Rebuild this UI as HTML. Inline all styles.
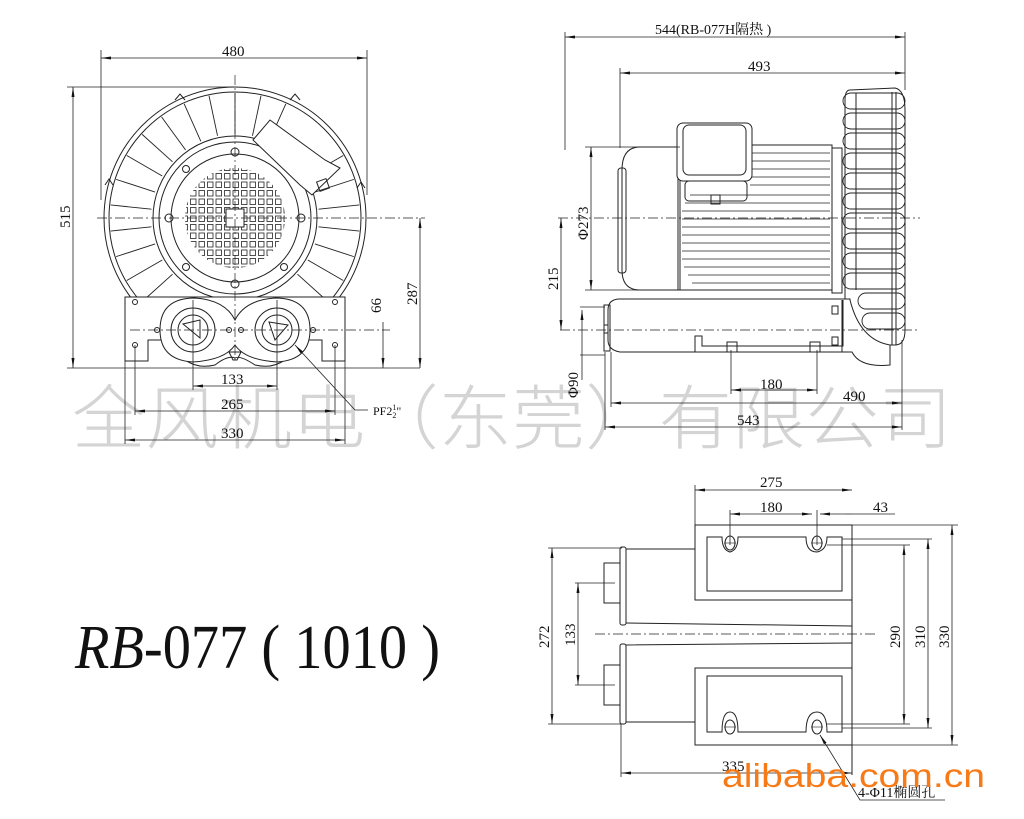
<!DOCTYPE html>
<html><head><meta charset="utf-8"><style>
html,body{margin:0;padding:0;background:#fff}
svg{display:block}
text{font-family:"Liberation Serif","Noto Serif CJK SC",serif;fill:#111}
.d{font-size:15px}
</style></head><body>
<svg width="1024" height="819" viewBox="0 0 1024 819" xmlns="http://www.w3.org/2000/svg">
<defs>
<marker id="a" viewBox="0 0 10 6" refX="10" refY="3" markerWidth="10" markerHeight="6" orient="auto-start-reverse" markerUnits="userSpaceOnUse"><path d="M0,1.5L10,3L0,4.5z" fill="#111"/></marker>
<pattern id="g" x="181" y="164" width="8.5" height="8.5" patternUnits="userSpaceOnUse"><rect x="1" y="1" width="5.5" height="5.5" fill="none" stroke="#222" stroke-width="0.8"/></pattern>
<clipPath id="gc"><circle cx="235" cy="218" r="50"/></clipPath>
</defs>

<!-- watermark -->
<text x="72" y="443" style="font-family:'Noto Sans CJK SC',sans-serif;font-weight:300;font-size:70px;fill:#d4d4d4" textLength="880" lengthAdjust="spacingAndGlyphs">全风机电（东莞）有限公司</text>

<g stroke="#222" fill="none" stroke-width="1">
<!-- ===== FRONT VIEW ===== -->
<circle cx="235" cy="218" r="131"/>
<circle cx="235" cy="218" r="126"/>
<g transform="translate(235,218)">
<circle r="82"/>
<circle r="76"/>
<circle r="64"/>
<g stroke-width="0.9">
<line x1="0" y1="-84" x2="0" y2="-125"/>
<line x1="0" y1="-84" x2="0" y2="-125" transform="rotate(12)"/>
<line x1="0" y1="-84" x2="0" y2="-125" transform="rotate(24)"/>
<line x1="0" y1="-84" x2="0" y2="-125" transform="rotate(60)"/>
<line x1="0" y1="-84" x2="0" y2="-125" transform="rotate(72)"/>
<line x1="0" y1="-84" x2="0" y2="-125" transform="rotate(84)"/>
<line x1="0" y1="-84" x2="0" y2="-125" transform="rotate(96)"/>
<line x1="0" y1="-84" x2="0" y2="-125" transform="rotate(108)"/>
<line x1="0" y1="-84" x2="0" y2="-125" transform="rotate(120)"/>
<line x1="0" y1="-84" x2="0" y2="-125" transform="rotate(132)"/>
<line x1="0" y1="-84" x2="0" y2="-125" transform="rotate(-12)"/>
<line x1="0" y1="-84" x2="0" y2="-125" transform="rotate(-24)"/>
<line x1="0" y1="-84" x2="0" y2="-125" transform="rotate(-36)"/>
<line x1="0" y1="-84" x2="0" y2="-125" transform="rotate(-48)"/>
<line x1="0" y1="-84" x2="0" y2="-125" transform="rotate(-60)"/>
<line x1="0" y1="-84" x2="0" y2="-125" transform="rotate(-72)"/>
<line x1="0" y1="-84" x2="0" y2="-125" transform="rotate(-84)"/>
<line x1="0" y1="-84" x2="0" y2="-125" transform="rotate(-96)"/>
<line x1="0" y1="-84" x2="0" y2="-125" transform="rotate(-108)"/>
<line x1="0" y1="-84" x2="0" y2="-125" transform="rotate(-120)"/>
<line x1="0" y1="-84" x2="0" y2="-125" transform="rotate(-132)"/>
</g>
<circle cx="0" cy="-66" r="4"/><circle cx="0" cy="66" r="4"/>
<circle cx="-66" cy="0" r="4"/><circle cx="66" cy="0" r="4"/>
<circle cx="-49" cy="-49" r="3.5"/><circle cx="-49" cy="49" r="3.5"/><circle cx="49" cy="49" r="3.5"/>
</g>
<rect x="160" y="143" width="150" height="150" fill="url(#g)" stroke="none" clip-path="url(#gc)"/>
<rect x="226" y="209" width="18" height="18" fill="#fff"/>
<!-- outlet wing -->
<path d="M253,140 L270,120 L325,160 L340,168 L312,195 L300,185 Z" fill="#fff"/>
<rect x="318" y="180" width="10" height="10" transform="rotate(-20 323 185)"/>
<path d="M175,100 l5,-6 l5,6 M290,100 l5,-6 l5,6 M105,185 l4,-6 l4,6 M357,188 l4,-6 l4,6"/>
<!-- base -->
<path d="M125,297 L345,297 L345,361 L322,361 L322,340 L300,340 Q285,372 255,365 Q240,355 235,358 Q228,355 215,365 Q185,372 170,340 L148,340 L148,361 L125,361 Z" fill="#fff"/>
<path d="M160,330 Q160,298 195,298 Q225,300 235,320 Q245,300 275,298 Q310,298 310,330 Q310,360 277,362 Q245,360 235,345 Q225,360 193,362 Q160,360 160,330 Z" fill="#fff"/>
<circle cx="193" cy="330" r="22"/><circle cx="193" cy="330" r="15"/>
<circle cx="277" cy="330" r="22"/><circle cx="277" cy="330" r="15"/>
<path d="M183,324 L200,320 L200,338 Z M269,322 L288,325 L275,340 Z"/>
<circle cx="157" cy="330" r="2.5"/><circle cx="229" cy="330" r="2.5"/><circle cx="241" cy="330" r="2.5"/><circle cx="313" cy="330" r="2.5"/>
<circle cx="135" cy="302" r="2.5"/><circle cx="335" cy="302" r="2.5"/><circle cx="135" cy="345" r="2.5"/><circle cx="335" cy="345" r="2.5"/>
<path d="M229,352 L241,352 L237,360 L233,360 Z"/>
<!-- front dims -->
<g stroke-width="0.8">
<line x1="101" y1="50" x2="101" y2="200"/><line x1="367" y1="50" x2="367" y2="195"/>
<line x1="101" y1="58" x2="367" y2="58" marker-start="url(#a)" marker-end="url(#a)"/>
<line x1="67" y1="87" x2="235" y2="87"/><line x1="67" y1="368" x2="420" y2="368"/>
<line x1="73" y1="87" x2="73" y2="368" marker-start="url(#a)" marker-end="url(#a)"/>
<line x1="420" y1="218" x2="420" y2="368" marker-start="url(#a)" marker-end="url(#a)"/>
<line x1="383" y1="322" x2="383" y2="368" marker-end="url(#a)"/>
<line x1="193" y1="300" x2="193" y2="390"/><line x1="277" y1="300" x2="277" y2="390"/>
<line x1="193" y1="386" x2="277" y2="386" marker-start="url(#a)" marker-end="url(#a)"/>
<line x1="135" y1="345" x2="135" y2="415"/><line x1="335" y1="345" x2="335" y2="415"/>
<line x1="135" y1="411" x2="335" y2="411" marker-start="url(#a)" marker-end="url(#a)"/>
<line x1="125" y1="361" x2="125" y2="444"/><line x1="345" y1="361" x2="345" y2="444"/>
<line x1="125" y1="440" x2="345" y2="440" marker-start="url(#a)" marker-end="url(#a)"/>
<polyline points="295,345 355,410 368,410" marker-start="url(#a)"/>
</g>
<g stroke-dasharray="10,3,2,3" stroke-width="0.7">
<line x1="97" y1="218" x2="425" y2="218"/>
<line x1="235" y1="75" x2="235" y2="362"/>
<line x1="130" y1="330" x2="390" y2="330"/>
</g>

<!-- ===== SIDE VIEW ===== -->
<path d="M640,147 L680,147 L680,290 L640,290 Q622,290 622,270 L622,170 Q622,147 640,147 Z" fill="#fff"/>
<rect x="618" y="168" width="8" height="105" rx="3"/>
<rect x="678" y="145" width="154" height="145"/>
<g stroke-width="0.7">
<line x1="750" y1="153" x2="830" y2="153"/><line x1="750" y1="161" x2="830" y2="161"/><line x1="750" y1="169" x2="830" y2="169"/><line x1="750" y1="177" x2="830" y2="177"/><line x1="750" y1="185" x2="830" y2="185"/>
<line x1="690" y1="195" x2="830" y2="195"/><line x1="685" y1="203" x2="830" y2="203"/><line x1="682" y1="211" x2="830" y2="211"/><line x1="682" y1="219" x2="830" y2="219"/><line x1="682" y1="227" x2="830" y2="227"/><line x1="682" y1="235" x2="830" y2="235"/><line x1="682" y1="243" x2="830" y2="243"/><line x1="682" y1="251" x2="830" y2="251"/><line x1="682" y1="259" x2="830" y2="259"/><line x1="684" y1="267" x2="830" y2="267"/><line x1="688" y1="275" x2="830" y2="275"/><line x1="692" y1="283" x2="830" y2="283"/>
</g>
<rect x="677" y="123" width="75" height="58" rx="6" fill="#fff"/>
<rect x="683" y="125" width="63" height="50" rx="6"/>
<rect x="685" y="181" width="62" height="20" rx="4"/>
<rect x="711" y="195" width="9" height="9"/>
<rect x="832" y="148" width="10" height="145"/>
<!-- cage -->
<path d="M850,90 L895,88 Q905,90 905,110 L905,330 Q905,345 895,345 L870,345 Q845,345 845,325 L845,100 Q845,90 850,90 Z" fill="#fff"/>
<g stroke-width="0.9">
<rect x="843" y="93" width="62" height="16" rx="8"/>
<rect x="843" y="113" width="62" height="16" rx="8"/>
<rect x="843" y="133" width="62" height="16" rx="8"/>
<rect x="843" y="153" width="62" height="16" rx="8"/>
<rect x="843" y="173" width="62" height="16" rx="8"/>
<rect x="843" y="193" width="62" height="16" rx="8"/>
<rect x="843" y="213" width="62" height="16" rx="8"/>
<rect x="843" y="233" width="62" height="16" rx="8"/>
<rect x="843" y="253" width="62" height="16" rx="8"/>
<rect x="843" y="273" width="62" height="16" rx="8"/>
<rect x="858" y="293" width="47" height="16" rx="8"/>
<rect x="862" y="313" width="43" height="16" rx="8"/>
</g>
<line x1="892" y1="92" x2="892" y2="345"/><line x1="896" y1="92" x2="896" y2="345"/>
<line x1="856" y1="93" x2="856" y2="290"/>
<!-- lower housing -->
<path d="M620,299 L850,299 L850,300 Q860,340 890,345 L890,365 Q860,368 852,352 L620,352 Q608,350 608,340 L608,310 Q608,299 620,299 Z" fill="#fff"/>
<rect x="604" y="305" width="6" height="46"/>
<rect x="604" y="325" width="4" height="8"/>
<path d="M695,352 L695,336 L702,336 L702,346 L843,346 L843,300"/>
<rect x="727" y="342" width="10" height="10"/><rect x="810" y="342" width="10" height="10"/>
<rect x="832" y="306" width="6" height="8"/><rect x="832" y="337" width="6" height="8"/>
<line x1="842" y1="300" x2="842" y2="352"/>
<!-- side dims -->
<g stroke-width="0.8">
<line x1="565" y1="32" x2="565" y2="150"/><line x1="905" y1="32" x2="905" y2="90"/>
<line x1="565" y1="37" x2="905" y2="37" marker-start="url(#a)" marker-end="url(#a)"/>
<line x1="620" y1="68" x2="620" y2="148"/>
<line x1="620" y1="73" x2="905" y2="73" marker-start="url(#a)" marker-end="url(#a)"/>
<line x1="585" y1="147" x2="680" y2="147"/><line x1="585" y1="290" x2="680" y2="290"/>
<line x1="591" y1="147" x2="591" y2="290" marker-start="url(#a)" marker-end="url(#a)"/>
<line x1="561" y1="218" x2="561" y2="330" marker-start="url(#a)" marker-end="url(#a)"/>
<line x1="580" y1="307" x2="605" y2="307"/><line x1="580" y1="355" x2="605" y2="355"/>
<line x1="582" y1="310" x2="582" y2="355" marker-start="url(#a)"/>
<line x1="582" y1="355" x2="582" y2="380"/>
<line x1="731" y1="350" x2="731" y2="394"/><line x1="817" y1="350" x2="817" y2="394"/>
<line x1="731" y1="390" x2="817" y2="390" marker-start="url(#a)" marker-end="url(#a)"/>
<line x1="611" y1="352" x2="611" y2="407"/><line x1="902" y1="340" x2="902" y2="430"/>
<line x1="611" y1="403" x2="902" y2="403" marker-start="url(#a)" marker-end="url(#a)"/>
<line x1="605" y1="352" x2="605" y2="430"/>
<line x1="605" y1="427" x2="902" y2="427" marker-start="url(#a)" marker-end="url(#a)"/>
</g>
<g stroke-dasharray="10,3,2,3" stroke-width="0.7">
<line x1="558" y1="218" x2="920" y2="218"/>
<line x1="560" y1="330" x2="920" y2="330"/>
</g>

<!-- ===== PLAN VIEW ===== -->
<rect x="695" y="525" width="157" height="75"/>
<path d="M707,537 L722,537 Q722,550 730,552 Q738,550 738,537 L806,537 Q806,552 817,552 Q827,550 827,537 L842,537 L842,591 L707,591 Z"/>
<rect x="695" y="668" width="157" height="77"/>
<path d="M707,676 L842,676 L842,732 L827,732 Q827,712 817,712 Q806,712 806,732 L738,732 Q738,712 730,712 Q722,712 722,732 L707,732 Z"/>
<ellipse cx="730" cy="543" rx="5" ry="7"/><ellipse cx="817" cy="543" rx="5" ry="7"/>
<ellipse cx="730" cy="727" rx="5" ry="7"/><ellipse cx="817" cy="727" rx="5" ry="7"/>
<g stroke-width="0.6"><line x1="724" y1="543" x2="736" y2="543"/><line x1="811" y1="543" x2="823" y2="543"/><line x1="724" y1="727" x2="736" y2="727"/><line x1="811" y1="727" x2="823" y2="727"/></g>
<line x1="852" y1="525" x2="852" y2="775"/>
<path d="M626,549 L695,549 M626,623 L852,626 M626,645 L852,643 M626,722 L695,722"/>
<rect x="620" y="547" width="6" height="78" rx="2"/>
<rect x="620" y="644" width="6" height="80" rx="2"/>
<rect x="604" y="563" width="16" height="40"/>
<rect x="604" y="665" width="16" height="40"/>
<g stroke-width="0.8">
<line x1="695" y1="485" x2="695" y2="525"/>
<line x1="695" y1="490" x2="852" y2="490" marker-start="url(#a)" marker-end="url(#a)"/>
<line x1="730" y1="510" x2="730" y2="545"/><line x1="817" y1="510" x2="817" y2="545"/>
<line x1="730" y1="514" x2="812" y2="514" marker-start="url(#a)" marker-end="url(#a)"/>
<line x1="820" y1="514" x2="845" y2="514" marker-start="url(#a)"/><line x1="845" y1="514" x2="852" y2="514"/>
<line x1="852" y1="514" x2="895" y2="514"/>
<line x1="548" y1="548" x2="622" y2="548"/><line x1="548" y1="724" x2="622" y2="724"/>
<line x1="552" y1="548" x2="552" y2="724" marker-start="url(#a)" marker-end="url(#a)"/>
<line x1="575" y1="583" x2="615" y2="583"/><line x1="575" y1="685" x2="615" y2="685"/>
<line x1="578" y1="583" x2="578" y2="685" marker-start="url(#a)" marker-end="url(#a)"/>
<line x1="827" y1="545" x2="910" y2="545"/><line x1="827" y1="724" x2="910" y2="724"/>
<line x1="904" y1="545" x2="904" y2="724" marker-start="url(#a)" marker-end="url(#a)"/>
<line x1="842" y1="539" x2="932" y2="539"/><line x1="842" y1="728" x2="932" y2="728"/>
<line x1="928" y1="539" x2="928" y2="728" marker-start="url(#a)" marker-end="url(#a)"/>
<line x1="852" y1="525" x2="958" y2="525"/><line x1="852" y1="745" x2="958" y2="745"/>
<line x1="952" y1="525" x2="952" y2="745" marker-start="url(#a)" marker-end="url(#a)"/>
<line x1="621" y1="724" x2="621" y2="777"/>
<line x1="621" y1="773" x2="852" y2="773" marker-start="url(#a)" marker-end="url(#a)"/>
<polyline points="820,735 860,800 945,800" marker-start="url(#a)"/>
</g>
<line x1="595" y1="634" x2="878" y2="634" stroke-dasharray="10,3,2,3" stroke-width="0.7"/>
</g>

<!-- text labels -->
<text class="d" x="222" y="56">480</text>
<text class="d" transform="translate(70,228) rotate(-90)">515</text>
<text class="d" transform="translate(417,305) rotate(-90)">287</text>
<text class="d" transform="translate(381,313) rotate(-90)">66</text>
<text class="d" x="221" y="384">133</text>
<text class="d" x="221" y="409">265</text>
<text class="d" x="221" y="438">330</text>
<text x="373" y="415" style="font-size:12px">PF2<tspan font-size="8" dy="-5">1</tspan><tspan font-size="8" dx="-4" dy="8">2</tspan><tspan dy="-3">"</tspan></text>
<text class="d" x="655" y="34" style="font-size:14px">544(RB-077H隔热 )</text>
<text class="d" x="748" y="71">493</text>
<text class="d" transform="translate(588,240) rotate(-90)">Φ273</text>
<text class="d" transform="translate(558,290) rotate(-90)">215</text>
<text class="d" transform="translate(578,398) rotate(-90)">Φ90</text>
<text class="d" x="760" y="389">180</text>
<text class="d" x="843" y="401">490</text>
<text class="d" x="737" y="425">543</text>
<text class="d" x="760" y="487">275</text>
<text class="d" x="760" y="512">180</text>
<text class="d" x="873" y="512">43</text>
<text class="d" transform="translate(549,648) rotate(-90)">272</text>
<text class="d" transform="translate(575,646) rotate(-90)">133</text>
<text class="d" transform="translate(900,648) rotate(-90)">290</text>
<text class="d" transform="translate(925,648) rotate(-90)">310</text>
<text class="d" transform="translate(949,648) rotate(-90)">330</text>
<text class="d" x="722" y="771">335</text>
<text x="858" y="797" style="font-size:14px">4-Φ11椭圆孔</text>
<text x="722" y="787" style="font-family:'Liberation Sans',sans-serif;font-size:33px;fill:#f77a16" textLength="263" lengthAdjust="spacingAndGlyphs">alibaba.com.cn</text>
<text x="75" y="668" style="font-size:62px" textLength="365" lengthAdjust="spacingAndGlyphs"><tspan font-style="italic">RB</tspan>-077 ( 1010 )</text>
</svg>
</body></html>
